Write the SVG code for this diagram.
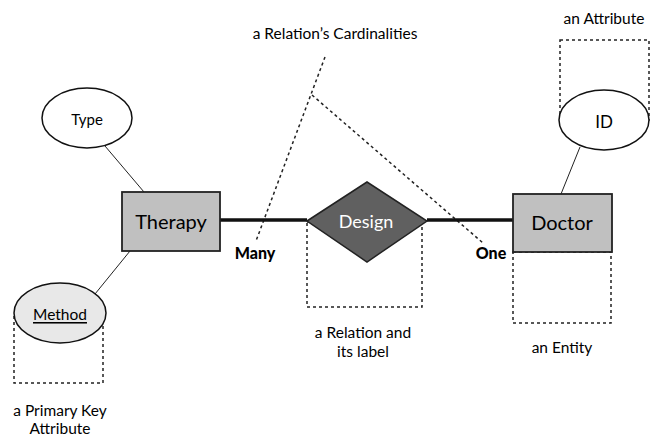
<svg xmlns="http://www.w3.org/2000/svg" width="650" height="439" viewBox="0 0 650 439">
<style>
text{font-family:Lato,"Liberation Sans",sans-serif;fill:#000;text-anchor:middle;dominant-baseline:central}
.dash{fill:none;stroke:#222;stroke-width:1.5;stroke-dasharray:3,3}
.thin{stroke:#222;stroke-width:1;fill:none}
.ent{fill:#c0c0c0;stroke:#222;stroke-width:1.8}
.attr{fill:#fff;stroke:#111;stroke-width:1.5}
.cap{font-size:15.5px}
.card{font-size:16px;font-weight:900}
</style>
<rect width="650" height="439" fill="#fff"/>
<g id="annotations">
<rect class="dash" x="14" y="313" width="89" height="70"/>
<rect class="dash" x="307" y="222" width="115" height="85"/>
<rect class="dash" x="513" y="252" width="98" height="71"/>
<rect class="dash" x="560" y="40" width="89" height="80"/>
<line class="dash" x1="325" y1="57" x2="256" y2="241"/>
<line class="dash" x1="312" y1="95" x2="483" y2="243"/>
<text class="cap" x="335" y="33">a Relation’s Cardinalities</text>
<text class="cap" x="604" y="18">an Attribute</text>
<text class="cap" x="363" y="332">a Relation and</text>
<text class="cap" x="363" y="351">its label</text>
<text class="cap" x="562" y="347">an Entity</text>
<text class="cap" x="60" y="410">a Primary Key</text>
<text class="cap" x="60" y="428">Attribute</text>
</g>
<g id="connectors">
<line x1="220" y1="220" x2="307" y2="220" stroke="#111" stroke-width="3.5"/>
<line x1="427" y1="220" x2="513" y2="220" stroke="#111" stroke-width="3.5"/>
<line class="thin" x1="105" y1="146" x2="144" y2="192"/>
<line class="thin" x1="95" y1="294" x2="130" y2="251"/>
<line class="thin" x1="580" y1="147" x2="561" y2="194"/>
</g>
<g id="therapy">
<rect class="ent" x="122" y="192" width="98" height="59"/>
<text x="171" y="221" font-size="20">Therapy</text>
</g>
<g id="doctor">
<rect class="ent" x="513" y="194" width="99" height="58"/>
<text x="562" y="222" font-size="20">Doctor</text>
</g>
<g id="design">
<polygon points="307,221 367,182 427,221 367,262" fill="#606060" stroke="#222" stroke-width="1.5"/>
<text x="366" y="221" font-size="18" style="fill:#fff">Design</text>
</g>
<g id="type">
<ellipse class="attr" cx="87" cy="118" rx="45" ry="30"/>
<text x="87" y="119" font-size="15">Type</text>
</g>
<g id="method">
<ellipse class="attr" cx="60" cy="313" rx="46" ry="30" style="fill:#e8e8e8"/>
<text x="60" y="314" font-size="15.5" text-decoration="underline">Method</text>
</g>
<g id="id">
<ellipse class="attr" cx="604" cy="120" rx="45" ry="30"/>
<text x="604" y="121" font-size="17">ID</text>
</g>
<g id="cardinalities">
<text class="card" x="255" y="252">Many</text>
<text class="card" x="491" y="252">One</text>
</g>
</svg>
